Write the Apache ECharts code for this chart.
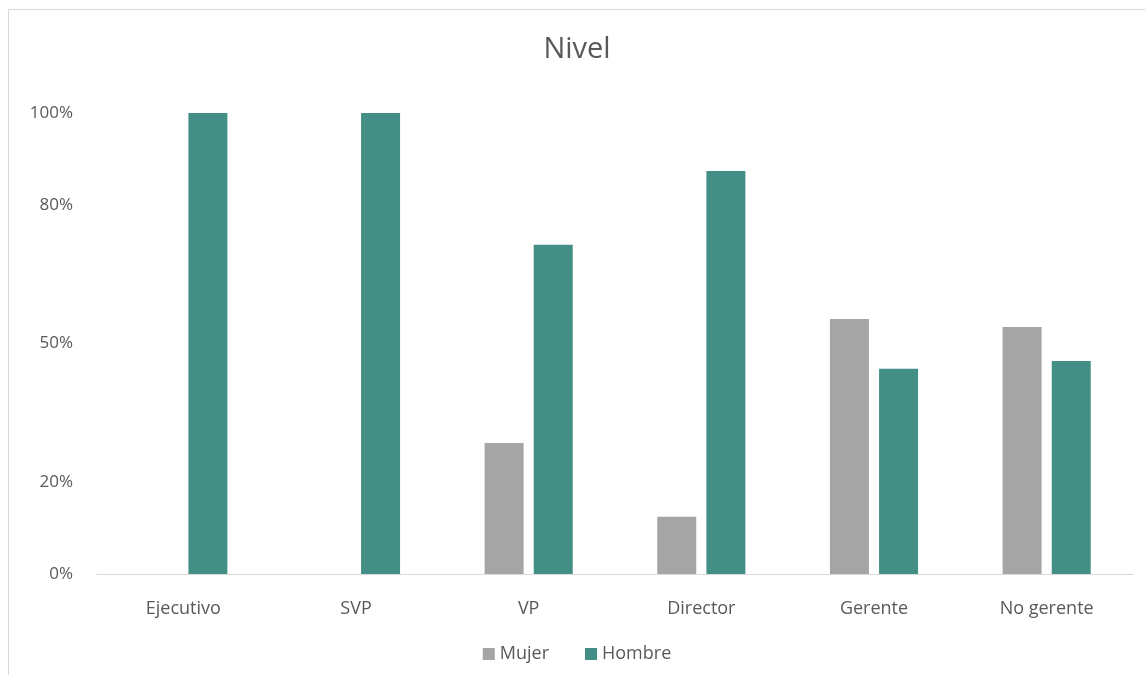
<!DOCTYPE html>
<html><head><meta charset="utf-8">
<script src="https://cdn.jsdelivr.net/npm/echarts@6/dist/echarts.min.js"></script>
<style>
html,body{margin:0;padding:0;background:#fff;width:1145px;height:675px;overflow:hidden}
#wrap{position:absolute;left:8px;top:9px;width:1140px;height:670px;border-left:1px solid #d9d9d9;border-top:1px solid #d9d9d9}
#c{width:1136px;height:665px}
</style></head><body>
<div id="wrap"><div id="c"></div></div>
<script>
const categories = ['Ejecutivo','SVP','VP','Director','Gerente','No gerente'];
const mujer = [0, 0, 0.284, 0.124, 0.553, 0.536];
const hombre = [1, 1, 0.714, 0.874, 0.445, 0.462];
const tickValues = [0, 0.2, 0.5, 0.8, 1];

const chart = echarts.init(document.getElementById('c'));
const font = '"Open Sans", Lato, sans-serif';
chart.setOption({
  animation:false,
  title:{text:'Nivel',left:'center',top:20,textStyle:{fontFamily:font,fontSize:29,fontWeight:'normal',color:'#595959'}},
  legend:{bottom:7,itemWidth:12,itemHeight:12,itemGap:36,icon:'rect',
    textStyle:{fontFamily:font,fontSize:18,color:'#595959'},data:['Mujer','Hombre']},
  grid:{left:88,top:103,width:1036,height:461,containLabel:false},
  xAxis:{type:'category',data:categories,
    axisLine:{lineStyle:{color:'#d9d9d9',width:1}},axisTick:{show:false},
    axisLabel:{fontFamily:font,fontSize:18,color:'#595959',margin:26}},
  yAxis:{type:'value',min:0,max:1,
    axisLine:{show:false},axisTick:{show:false},splitLine:{show:false},
    axisLabel:{customValues:tickValues,fontFamily:font,fontSize:17,color:'#595959',margin:24,
      padding:[4,0,0,0],formatter:v=>Math.round(v*100)+'%'}},
  series:[
    {name:'Mujer',type:'bar',data:mujer,itemStyle:{color:'#a5a5a5'},barWidth:39,barGap:'26%'},
    {name:'Hombre',type:'bar',data:hombre,itemStyle:{color:'#448f85'},barWidth:39}
  ]
});
</script>
</body></html>
